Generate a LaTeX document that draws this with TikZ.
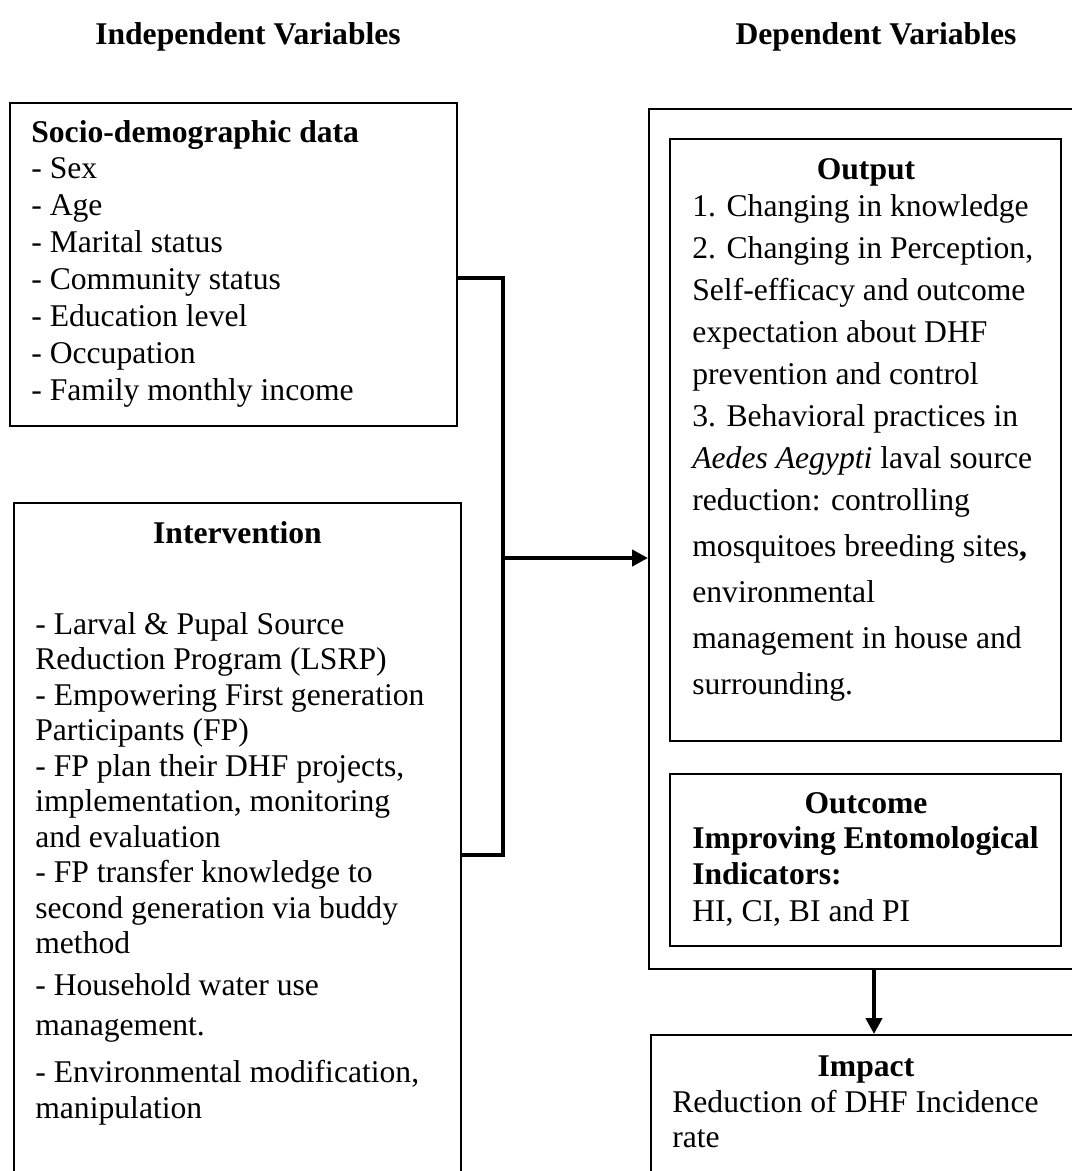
\documentclass[tikz,border=0pt]{standalone}
\usepackage{fontspec}
\setmainfont{Liberation Serif}
\usetikzlibrary{arrows.meta,fit}
\begin{document}
\begin{tikzpicture}[x=0.02cm,y=-0.02cm,
  box/.style={draw, line width=1.1pt, inner sep=0pt},
  txt/.style={anchor=base west, inner sep=0pt, font=\fontsize{18}{21}\selectfont},
  hd/.style={anchor=base, inner sep=0pt, font=\fontsize{18}{21}\selectfont\bfseries},
  hdl/.style={anchor=base west, inner sep=0pt, font=\fontsize{18}{21}\selectfont\bfseries},
  conn/.style={line width=2.6pt},
  tip/.style={-{Triangle[length=9pt,width=9pt]}}
  ]
\useasboundingbox (0,0) rectangle (1072,1171);
% titles
\node[hd] (tind) at (248,44) {Independent Variables};
\node[hd] (tdep) at (876,44) {Dependent Variables};
% boxes
\node[box, fit={(10,103) (457,426)}] (socio) {};
\node[box, fit={(14,503) (461,1200)}] (interv) {};
\node[box, fit={(649,109) (1090,969)}] (outer) {};
\node[box, fit={(670,139) (1061,741)}] (output) {};
\node[box, fit={(670,774) (1061,946)}] (outcome) {};
\node[box, fit={(651,1035) (1090,1200)}] (impact) {};
% socio text
\node[hdl] (sh) at (31,142) {Socio-demographic data};
\foreach \t [count=\i] in {- Sex,- Age,- Marital status,- Community status,- Education level,- Occupation,- Family monthly income}
  \node[txt] (s\i) at (31,{142+36.9*\i}) {\t};
% intervention text
\node[hd] (ih) at (237.5,543) {Intervention};
\foreach \t/\y [count=\i] in {- Larval \& Pupal Source/634,Reduction Program (LSRP)/669.5,- Empowering First generation/705,Participants (FP)/740.5,{- FP plan their DHF projects,}/776,implementation{,} monitoring/811.5,and evaluation/847,- FP transfer knowledge to/882.5,second generation via buddy/918,method/953.5,- Household water use/995,management./1035,{- Environmental modification,}/1082,manipulation/1118}
  \node[txt] (i\i) at (35,\y) {\t};
% output text
\node[hd] (oh) at (866,179) {Output};
\foreach \t/\y [count=\i] in {1. Changing in knowledge/216,{2. Changing in Perception,}/258,Self-efficacy and outcome/300,expectation about DHF/342,prevention and control/384,3. Behavioral practices in/426,\textit{Aedes Aegypti} laval source/468,reduction: controlling/510,mosquitoes breeding sites\textbf{,}/556,environmental/602,management in house and/648,surrounding./694}
  \node[txt] (o\i) at (692,\y) {\t};
% outcome text
\node[hd] (ch) at (866,813) {Outcome};
\node[hdl] (c1) at (692,848) {Improving Entomological};
\node[hdl] (c2) at (692,884) {Indicators:};
\node[txt] (c3) at (692,921) {HI, CI, BI and PI};
% impact text
\node[hd] (mh) at (866,1076) {Impact};
\node[txt] (m1) at (672,1112) {Reduction of DHF Incidence};
\node[txt] (m2) at (672,1147) {rate};
% connectors
\coordinate (j1) at (503,278);
\coordinate (j2) at (503,855);
\coordinate (jm) at (503,558);
\coordinate (dx) at (874,1000);
\draw[conn] (socio.east |- j1) -- (j1) -- (j2) -- (interv.east |- j2);
\draw[conn, tip] (jm) -- (outer.west |- jm);
\draw[conn, tip] (outer.south -| dx) -- (impact.north -| dx);
\end{tikzpicture}
\end{document}
